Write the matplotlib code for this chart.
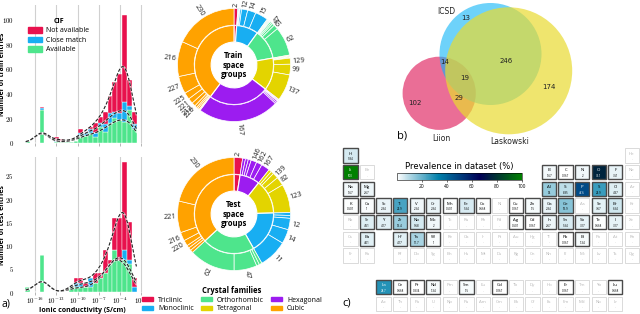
import numpy as np
import matplotlib
matplotlib.use("Agg")
import matplotlib.pyplot as plt
from matplotlib.patches import Patch, Rectangle, Circle
import matplotlib.colors as mcolors
from matplotlib.cm import ScalarMappable

plt.rcParams['mathtext.fontset'] = 'cm'
plt.rcParams['font.family'] = ['Open Sans', 'DejaVu Sans']

# ---------------- data: histograms (log10 ionic conductivity bins) ----------------
bin_centers = [-17.06, -16.38, -15.69, -15.01, -14.32, -13.64, -12.95, -12.27,
               -11.59, -10.90, -10.22, -9.54, -8.85, -8.17, -7.48, -6.80,
               -6.12, -5.43, -4.75, -4.06, -3.38, -2.70, -2.01]
bin_width = 0.684
train_available = [2, 0, 0, 27, 0, 0, 1, 1, 1, 1, 2, 6, 6, 8, 5, 13, 9, 16, 20, 19, 17, 27, 11]
train_close     = [0, 0, 0, 1, 0, 0, 1, 0, 0, 0, 0, 2, 2, 3, 3, 3, 6, 8, 5, 5, 16, 3, 4]
train_notavail  = [0, 0, 0, 1, 0, 0, 3, 2, 0, 0, 0, 3, 0, 2, 8, 5, 10, 14, 24, 32, 71, 21, 10]
test_available  = [1, 0, 0, 8, 0, 0, 0, 0, 0, 1, 1, 1, 1, 1, 2, 3, 4, 6, 9, 7, 7, 6, 0]
test_close      = [0, 0, 0, 0, 0, 0, 0, 0, 0, 0, 1, 1, 0, 2, 0, 0, 0, 0, 0, 0, 2, 1, 1]
test_notavail   = [0, 0, 0, 0, 0, 0, 0, 0, 0, 0, 1, 1, 1, 0, 2, 1, 5, 1, 7, 9, 19, 8, 2]
xtick_exponents = [-16, -13, -10, -7, -4, -1]

# ---------------- data: sunbursts ----------------
train_families = ['Triclinic', 'Monoclinic', 'Orthorhombic', 'Tetragonal', 'Hexagonal', 'Cubic']
train_sg = [[2], [4, 7, 9, 11, 12, 14, 15],
            [19, 26, 29, 33, 36, 40, 58, 47, 61, 62],
            [88, 113, 122, 141, 129, 99, 137],
            [146, 148, 161, 166, 176, 167],
            [198, 205, 213, 215, 220, 212, 221, 225, 227, 216, 230]]
train_sg_counts = [[5], [1, 1, 1, 2, 8, 11, 17],
                   [1, 1, 1, 1, 1, 2, 2, 3, 6, 38],
                   [1, 1, 1, 1, 8, 14, 35],
                   [1, 1, 1, 2, 2, 107],
                   [1, 1, 2, 2, 3, 5, 7, 9, 23, 46, 84]]
test_families = ['Triclinic', 'Hexagonal', 'Tetragonal', 'Monoclinic', 'Orthorhombic', 'Cubic']
test_sg = [[2], [148, 160, 163, 146, 162, 167], [113, 88, 139, 82, 123],
           [5, 9, 12, 14, 11], [33, 36, 47, 62], [198, 225, 227, 220, 216, 221, 230]]
test_sg_counts = [[3], [1, 1, 1, 2, 2, 3], [1, 1, 2, 3, 10],
                  [1, 1, 4, 5, 10], [1, 1, 8, 16], [1, 1, 1, 2, 3, 11, 26]]
family_order = ['Triclinic', 'Monoclinic', 'Orthorhombic', 'Tetragonal', 'Hexagonal', 'Cubic']

# ---------------- data: Venn ----------------
venn_sets = ['ICSD', 'Laskowski', 'Liion']
venn_region_names = ['ICSD only', 'ICSD&Liion', 'all', 'ICSD&Lask', 'Lask only', 'Liion only', 'Liion&Lask']
venn_region_counts = [13, 14, 19, 246, 174, 102, 29]

# ---------------- data: periodic table ----------------
pt_rows = [
    ['H'] + [''] * 16 + ['He'],
    ['Li', 'Be'] + [''] * 10 + ['B', 'C', 'N', 'O', 'F', 'Ne'],
    ['Na', 'Mg'] + [''] * 10 + ['Al', 'Si', 'P', 'S', 'Cl', 'Ar'],
    ['K', 'Ca', 'Sc', 'Ti', 'V', 'Cr', 'Mn', 'Fe', 'Co', 'Ni', 'Cu', 'Zn', 'Ga', 'Ge', 'As', 'Se', 'Br', 'Kr'],
    ['Rb', 'Sr', 'Y', 'Zr', 'Nb', 'Mo', 'Tc', 'Ru', 'Rh', 'Pd', 'Ag', 'Cd', 'In', 'Sn', 'Sb', 'Te', 'I', 'Xe'],
    ['Cs', 'Ba', '', 'Hf', 'Ta', 'W', 'Re', 'Os', 'Ir', 'Pt', 'Au', 'Hg', 'Tl', 'Pb', 'Bi', 'Po', 'At', 'Rn'],
    ['Fr', 'Ra', '', 'Rf', 'Db', 'Sg', 'Bh', 'Hs', 'Mt', 'Ds', 'Rg', 'Cn', 'Nh', 'Fl', 'Mc', 'Lv', 'Ts', 'Og'],
]
lanthanides = ['La', 'Ce', 'Pr', 'Nd', 'Pm', 'Sm', 'Eu', 'Gd', 'Tb', 'Dy', 'Ho', 'Er', 'Tm', 'Yb', 'Lu']
actinides = ['Ac', 'Th', 'Pa', 'U', 'Np', 'Pu', 'Am', 'Cm', 'Bk', 'Cf', 'Es', 'Fm', 'Md', 'No', 'Lr']
present_symbols = ['H', 'Li', 'B', 'C', 'N', 'O', 'F', 'Na', 'Mg', 'Al', 'Si', 'P', 'S', 'Cl',
                   'K', 'Ca', 'Sc', 'Ti', 'V', 'Cr', 'Mn', 'Fe', 'Co', 'Cu', 'Zn', 'Ga', 'Ge', 'Se', 'Br',
                   'Sr', 'Y', 'Zr', 'Nb', 'Mo', 'Ag', 'Cd', 'In', 'Sn', 'Sb', 'Te', 'I',
                   'Ba', 'Hf', 'Ta', 'W', 'Pb', 'Bi',
                   'La', 'Ce', 'Pr', 'Nd', 'Sm', 'Gd', 'Er', 'Lu']
present_values = [5.84, 100, 1.67, 0.167, 2, 76.1, 3.51, 1.67, 2.67, 14, 8.85, 47.6, 25.9, 4.37,
                  0.501, 1, 2.84, 23.9, 2.34, 2.84, 0.501, 5.34, 0.668, 0.167, 1.5, 2.84, 15.9, 3.67, 6.34,
                  4.51, 4.17, 13.4, 5.68, 2, 0.501, 0.167, 2.67, 5.34, 3.17, 0.668, 3.17,
                  4.01, 4.17, 11.7, 1, 0.167, 1.34,
                  28.7, 0.668, 0.334, 1.34, 1.5, 0.167, 0.167, 0.668]
cbar_ticks = [20, 40, 60, 80, 100]

# ---------------- styles ----------------
RED, BLUE, GREEN = '#e8114d', '#18aef2', '#4ee58c'
fam_colors = {'Triclinic': RED, 'Monoclinic': BLUE, 'Orthorhombic': GREEN,
              'Tetragonal': '#e3d400', 'Hexagonal': '#9c1cf0', 'Cubic': '#ffa200'}

W, H = 640, 314
fig = plt.figure(figsize=(6.4, 3.14), dpi=100)


def px_axes(x0, y0, x1, y1):
    return fig.add_axes([x0 / W, 1 - y1 / H, (x1 - x0) / W, (y1 - y0) / H])


def kde(xs, centers, counts, h):
    c = np.asarray(centers)[None, :]
    w = np.asarray(counts, float)[None, :]
    z = (xs[:, None] - c) / h
    return (np.exp(-0.5 * z ** 2) / (h * np.sqrt(2 * np.pi)) * w).sum(1) * bin_width


def hist_panel(ax, g, b, r, ymax, yticks, ylabel, show_xlabels):
    g, b, r = map(np.asarray, (g, b, r))
    ax.bar(bin_centers, g, width=bin_width, color=GREEN, edgecolor='white', linewidth=0.3)
    ax.bar(bin_centers, b, width=bin_width, bottom=g, color=BLUE, edgecolor='white', linewidth=0.3)
    ax.bar(bin_centers, r, width=bin_width, bottom=g + b, color=RED, edgecolor='white', linewidth=0.3)
    xs = np.linspace(bin_centers[0] - 0.25, bin_centers[-1] + 0.3, 300)
    h = 1.0
    for cnt in (g, g + b, g + b + r):
        y = kde(xs, bin_centers, cnt, h)
        ax.plot(xs, y, color='white', lw=1.4, alpha=0.7)
        ax.plot(xs, y, color='#222222', lw=0.8, ls=(0, (3, 1.5)))
    ax.set_xlim(-18.2, -0.5)
    ax.set_ylim(0, ymax)
    ax.set_yticks(yticks)
    ax.set_yticklabels([r'$%d$' % t for t in yticks])
    ax.set_xticks(xtick_exponents)
    if show_xlabels:
        ax.set_xticklabels([r'$10^{%d}$' % e for e in xtick_exponents])
    else:
        ax.set_xticklabels([])
    ax.grid(axis='x', color='#d0d0d0', lw=0.8)
    ax.set_axisbelow(True)
    for s in ax.spines.values():
        s.set_visible(False)
    ax.tick_params(axis='x', length=2, width=0.5, color='#999999', labelsize=5, pad=0.5)
    ax.tick_params(axis='y', length=0, labelsize=5, pad=4)
    ax.set_ylabel(ylabel, fontsize=5, fontweight='bold')
    ax.yaxis.set_label_coords(-0.103, 0.5)
    ax.patch.set_alpha(0)


ax_tr = px_axes(19.4, 4.7, 145, 143)
hist_panel(ax_tr, train_available, train_close, train_notavail, 112, [0, 20, 40, 60, 80, 100],
           'Number of train entries', False)
ax_tr.legend(handles=[Patch(color=RED, label='Not available'),
                      Patch(color=BLUE, label='Close match'),
                      Patch(color=GREEN, label='Available')],
             title='CIF', loc='upper left', bbox_to_anchor=(0.07, 0.905), frameon=False,
             fontsize=5, title_fontproperties={'weight': 'bold', 'size': 5},
             handlelength=2.0, handleheight=0.8, labelspacing=0.35, borderpad=0,
             borderaxespad=0, handletextpad=0.6)

ax_te = px_axes(19.4, 157.4, 145, 292)
hist_panel(ax_te, test_available, test_close, test_notavail, 29, [0, 5, 10, 15, 20, 25],
           'Number of test entries', True)
ax_te.set_xlabel('Ionic conductivity (S/cm)', fontsize=5, fontweight='bold')
ax_te.xaxis.set_label_coords(0.5, -0.11)


# ---------------- sunbursts ----------------
def sunburst(cx, cy, fams, sgs, sg_counts, thresh, center_text):
    R = 56.5
    L = 1.4
    ax = px_axes(cx - R * L, cy - R * L, cx + R * L, cy + R * L)
    fam_counts = [sum(c) for c in sg_counts]
    ax.pie(fam_counts, radius=0.70, startangle=90, counterclock=False,
           colors=[fam_colors[f] for f in fams],
           wedgeprops=dict(width=0.295, edgecolor='white', linewidth=0.8))
    outer_counts, outer_colors, outer_labels = [], [], []
    for f, s, c in zip(fams, sgs, sg_counts):
        for si, ci in zip(s, c):
            outer_counts.append(ci)
            outer_colors.append(fam_colors[f])
            outer_labels.append(str(si) if ci >= thresh else '')
    wedges, _ = ax.pie(outer_counts, radius=1.0, startangle=90, counterclock=False,
                       colors=outer_colors,
                       wedgeprops=dict(width=0.295, edgecolor='white', linewidth=0.5))
    for wdg, lab in zip(wedges, outer_labels):
        if not lab:
            continue
        ang = 0.5 * (wdg.theta1 + wdg.theta2)
        ca, sa = np.cos(np.radians(ang)), np.sin(np.radians(ang))
        if ca >= -1e-6:
            rot, ha = ang, 'left'
        else:
            rot, ha = ang + 180, 'right'
        ax.text(1.03 * ca, 1.03 * sa, lab, rotation=rot, rotation_mode='anchor',
                ha=ha, va='center', fontsize=5.3, color='#222222')
    ax.text(0, 0, center_text, ha='center', va='center', fontsize=5.5,
            fontweight='bold', linespacing=1.05)
    ax.set_xlim(-L, L)
    ax.set_ylim(-L, L)
    ax.axis('off')


sunburst(234, 65, train_families, train_sg, train_sg_counts, 3, 'Train\nspace\ngroups')
sunburst(234, 214, test_families, test_sg, test_sg_counts, 2, 'Test\nspace\ngroups')

fig.legend(handles=[Patch(color=fam_colors[f], label=f) for f in family_order],
           ncol=3, loc='upper center', bbox_to_anchor=(232 / W, 1 - 286 / H), frameon=False,
           fontsize=5, title='Crystal families', title_fontproperties={'weight': 'bold', 'size': 5.5},
           handlelength=1.6, handleheight=0.45, columnspacing=1.0, labelspacing=0.25,
           borderpad=0, borderaxespad=0, handletextpad=0.7)

# ---------------- Venn ----------------
axv = px_axes(395, 0, 640, 148)
axv.set_xlim(395, 640)
axv.set_ylim(148, 0)
axv.axis('off')
circ_specs = {'Liion': ((439.2, 93.3), 36.6, '#e2306a', 0.7),
              'ICSD': ((490.5, 54.0), 51.0, '#0db4f7', 0.6),
              'Laskowski': ((508.7, 70.8), 63.5, '#e9db30', 0.7)}
for name in ['Liion', 'ICSD', 'Laskowski']:
    (cx, cy), r, col, a = circ_specs[name]
    axv.add_patch(Circle((cx, cy), r, facecolor=col, alpha=a, edgecolor='none'))
set_label_pos = {'ICSD': (446.7, 11), 'Laskowski': (509.3, 141.7), 'Liion': (441, 138.3)}
for name in venn_sets:
    axv.text(*set_label_pos[name], name, ha='center', va='center', fontsize=5.5,
             family='DejaVu Sans', color='#222222')
region_pos = [(466, 18.3), (445, 62.3), (465, 78.3), (506, 61), (549.3, 86.7), (415, 102.7), (459.3, 98.3)]
for (x, y), v in zip(region_pos, venn_region_counts):
    axv.text(x, y, str(v), ha='center', va='center', fontsize=5, family='DejaVu Sans', color='#222222')

# ---------------- periodic table ----------------
XP, YP = 16.55, 16.67
x0, y0 = 343.3, 148.3
xr = (W - x0) / XP
yr = 9.85
axp = px_axes(x0, y0, W, y0 + yr * YP)
axp.set_xlim(0, xr)
axp.set_ylim(yr, 0)
axp.axis('off')
cmap = plt.get_cmap('ocean_r')
norm = mcolors.Normalize(0, 100)
values = dict(zip(present_symbols, present_values))
cells = []
for r, row in enumerate(pt_rows):
    for c, s in enumerate(row):
        if s:
            cells.append((s, c, r))
for i, s in enumerate(lanthanides):
    cells.append((s, 2 + i, 7.9))
for i, s in enumerate(actinides):
    cells.append((s, 2 + i, 8.9))
cw = 0.87
for s, c, r in cells:
    if s in values:
        v = values[s]
        fc = cmap(norm(v))
        axp.add_patch(Rectangle((c, r), cw, cw, facecolor=fc, edgecolor='#4a4a4a', lw=1.0, clip_on=False))
        tc = 'white' if v >= 28 else 'black'
        axp.text(c + cw / 2, r + 0.33, s, ha='center', va='center', fontsize=3.2, color=tc, clip_on=False)
        axp.text(c + cw / 2, r + 0.66, f'{v:.3g}', ha='center', va='center', fontsize=2.1, color=tc,
                 clip_on=False)
    else:
        axp.add_patch(Rectangle((c, r), cw, cw, facecolor='white', edgecolor='#d4d4d4', lw=0.6, clip_on=False))
        axp.text(c + cw / 2, r + 0.33, s, ha='center', va='center', fontsize=3.2, color='#b8b8b8', clip_on=False)
        axp.text(c + cw / 2, r + 0.66, '-', ha='center', va='center', fontsize=2.1, color='#b8b8b8',
                 clip_on=False)

cax = px_axes(396.7, 172.7, 521.7, 180.3)
cb = fig.colorbar(ScalarMappable(norm=norm, cmap=cmap), cax=cax, orientation='horizontal')
cb.set_ticks(cbar_ticks)
cb.ax.tick_params(labelsize=3.5, length=1.5, width=0.4, pad=1)
cb.outline.set_linewidth(0.4)
fig.text(459 / W, 1 - 166 / H, 'Prevalence in dataset (%)', ha='center', va='center', fontsize=6,
         family='DejaVu Sans')

# panel letters
fig.text(1 / W, 1 - 304 / H, 'a)', fontsize=7.5, va='center', ha='left')
fig.text(397 / W, 1 - 136 / H, 'b)', fontsize=8, va='center', ha='left')
fig.text(342 / W, 1 - 303 / H, 'c)', fontsize=8, va='center', ha='left')

fig.savefig('out.png', dpi=100, facecolor='white')
